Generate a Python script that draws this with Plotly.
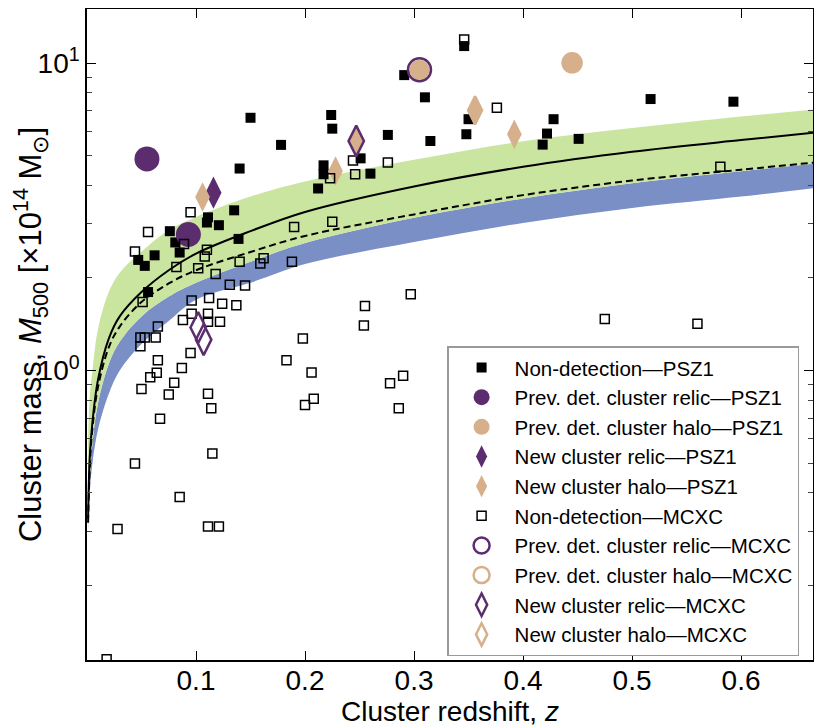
import plotly.graph_objects as go

# ---------------- data ----------------
# Completeness curves
curve_z = [0.001, 0.0025, 0.005, 0.01, 0.02, 0.03, 0.05, 0.075, 0.1, 0.15, 0.2, 0.3, 0.4, 0.5, 0.6, 0.67]
solid_m = [0.33, 0.52, 0.68, 0.93, 1.27, 1.50, 1.80, 2.12, 2.40, 2.84, 3.28, 3.97, 4.60, 5.15, 5.62, 5.95]
dashed_m = [0.32, 0.48, 0.65, 0.88, 1.19, 1.39, 1.67, 1.92, 2.12, 2.43, 2.74, 3.22, 3.72, 4.15, 4.50, 4.76]
green_hi = [0.60, 0.82, 1.00, 1.36, 1.80, 2.08, 2.44, 2.86, 3.16, 3.68, 4.12, 4.85, 5.57, 6.15, 6.70, 7.09]
green_lo = [0.31, 0.44, 0.58, 0.78, 1.05, 1.24, 1.50, 1.74, 1.93, 2.26, 2.60, 3.14, 3.63, 4.07, 4.45, 4.72]
blue_lo = [0.30, 0.40, 0.50, 0.64, 0.84, 1.00, 1.22, 1.45, 1.70, 1.93, 2.22, 2.62, 3.02, 3.38, 3.68, 3.93]

# PSZ1 non-detections
psz_nd_z = [0.150, 0.178, 0.140, 0.224, 0.225, 0.217, 0.217, 0.212, 0.135, 0.111, 0.110, 0.121,
            0.076, 0.139, 0.081, 0.085, 0.047, 0.053, 0.062, 0.056, 0.346, 0.291, 0.310, 0.350,
            0.348, 0.276, 0.315, 0.428, 0.422, 0.418, 0.451, 0.517, 0.593, 0.251, 0.260]
psz_nd_m = [6.64, 5.42, 4.54, 6.78, 6.12, 4.65, 4.35, 3.91, 3.32, 3.15, 3.03, 2.97,
            2.84, 2.68, 2.61, 2.42, 2.29, 2.19, 2.37, 1.80, 11.36, 9.14, 7.74, 6.57,
            5.87, 5.84, 5.58, 6.57, 5.90, 5.43, 5.67, 7.64, 7.49, 4.90, 4.37]

# PSZ1 detections
psz_relic_prev_z = [0.055, 0.093]
psz_relic_prev_m = [4.88, 2.77]
psz_halo_prev_z = [0.305, 0.445]
psz_halo_prev_m = [9.51, 10.02]
psz_relic_new_z = [0.116]
psz_relic_new_m = [3.79]
psz_halo_new_z = [0.106, 0.228, 0.247, 0.356, 0.392]
psz_halo_new_m = [3.67, 4.46, 5.58, 7.02, 5.87]

# MCXC non-detections
mcxc_nd_z = [0.346, 0.223, 0.095, 0.056, 0.089, 0.044, 0.190, 0.225, 0.110, 0.108,
             0.082, 0.102, 0.118, 0.140, 0.162, 0.159, 0.188, 0.131, 0.145, 0.051,
             0.096, 0.112, 0.124, 0.137, 0.096, 0.111, 0.088, 0.111, 0.122, 0.065,
             0.049, 0.053, 0.063, 0.049, 0.095, 0.065, 0.087, 0.064, 0.058, 0.080,
             0.050, 0.075, 0.111, 0.114, 0.067, 0.115, 0.044, 0.085, 0.028, 0.111,
             0.121, 0.018, 0.198, 0.183, 0.206, 0.208, 0.200, 0.297, 0.255, 0.254,
             0.290, 0.278, 0.286, 0.376, 0.244, 0.246, 0.276, 0.581, 0.475, 0.560]
mcxc_nd_m = [11.94, 4.22, 3.27, 2.82, 2.58, 2.44, 2.93, 3.05, 2.47, 2.35,
             2.17, 2.15, 2.06, 2.26, 2.32, 2.23, 2.26, 1.90, 1.89, 1.67,
             1.69, 1.72, 1.65, 1.63, 1.53, 1.53, 1.46, 1.44, 1.44, 1.39,
             1.28, 1.28, 1.28, 1.20, 1.14, 1.08, 1.02, 0.983, 0.951, 0.912,
             0.870, 0.836, 0.840, 0.754, 0.697, 0.537, 0.498, 0.388, 0.305, 0.311,
             0.311, 0.115, 1.27, 1.08, 0.985, 0.809, 0.773, 1.77, 1.62, 1.40,
             0.961, 0.909, 0.754, 7.16, 4.82, 4.35, 4.75, 4.60, 1.47, 1.42]

# MCXC detections
mcxc_relic_prev_z = [0.305]
mcxc_relic_prev_m = [9.51]
mcxc_halo_prev_z = [0.445]
mcxc_halo_prev_m = [10.02]
mcxc_relic_new_z = [0.247, 0.102, 0.107]
mcxc_relic_new_m = [5.58, 1.38, 1.26]
mcxc_halo_new_z = [0.356]
mcxc_halo_new_m = [7.02]

x_ticks = [0.1, 0.2, 0.3, 0.4, 0.5, 0.6]
y_ticks = [1, 10]
y_ticktext = ["10<sup>0</sup>", "10<sup>1</sup>"]
y_minor = [0.2, 0.3, 0.4, 0.5, 0.6, 0.7, 0.8, 0.9, 2, 3, 4, 5, 6, 7, 8, 9]

labels = ["Non-detection\u2014PSZ1", "Prev. det. cluster relic\u2014PSZ1",
          "Prev. det. cluster halo\u2014PSZ1", "New cluster relic\u2014PSZ1",
          "New cluster halo\u2014PSZ1", "Non-detection\u2014MCXC",
          "Prev. det. cluster relic\u2014MCXC", "Prev. det. cluster halo\u2014MCXC",
          "New cluster relic\u2014MCXC", "New cluster halo\u2014MCXC"]

# ---------------- style ----------------
PURPLE = "#5c2d6e"
TAN = "#d6b08b"
GREEN = "#cae5a0"
BLUE = "#7b8fc7"

fig = go.Figure()

# bands
fig.add_trace(go.Scatter(x=curve_z, y=blue_lo, mode="lines", line=dict(width=0, shape="spline"),
                         showlegend=False, hoverinfo="skip"))
fig.add_trace(go.Scatter(x=curve_z, y=green_lo, mode="lines", line=dict(width=0, shape="spline"),
                         fill="tonexty", fillcolor=BLUE, showlegend=False, hoverinfo="skip"))
fig.add_trace(go.Scatter(x=curve_z, y=green_hi, mode="lines", line=dict(width=0, shape="spline"),
                         fill="tonexty", fillcolor=GREEN, showlegend=False, hoverinfo="skip"))
# lines
fig.add_trace(go.Scatter(x=curve_z, y=solid_m, mode="lines",
                         line=dict(color="black", width=2, shape="spline"), showlegend=False))
fig.add_trace(go.Scatter(x=curve_z, y=dashed_m, mode="lines",
                         line=dict(color="black", width=2, dash="7px,4px", shape="spline"), showlegend=False))

def pts(x, y, name, symbol, size, color, lw=0, lc=None):
    fig.add_trace(go.Scatter(
        x=x, y=y, mode="markers", name=name,
        marker=dict(symbol=symbol, size=size, color=color,
                    line=dict(width=lw, color=lc if lc else color))))

pts(psz_nd_z, psz_nd_m, labels[0], "square", 10, "black")
pts(psz_relic_prev_z, psz_relic_prev_m, labels[1], "circle", 25, PURPLE)
pts(psz_halo_prev_z, psz_halo_prev_m, labels[2], "circle", 20, TAN)
pts(psz_relic_new_z, psz_relic_new_m, labels[3], "diamond-tall", 23, PURPLE)
pts(psz_halo_new_z, psz_halo_new_m, labels[4], "diamond-tall", 21, TAN)
pts(mcxc_nd_z, mcxc_nd_m, labels[5], "square-open", 9, "black", 1.5)
pts(mcxc_relic_prev_z, mcxc_relic_prev_m, labels[6], "circle-open", 23, PURPLE, 2.5)
pts(mcxc_halo_prev_z, mcxc_halo_prev_m, labels[7], "circle-open", 19, TAN, 2.5)
pts(mcxc_relic_new_z, mcxc_relic_new_m, labels[8], "diamond-tall-open", 22, PURPLE, 2.5)
pts(mcxc_halo_new_z, mcxc_halo_new_m, labels[9], "diamond-tall-open", 20, TAN, 2.5)

AXFONT = "Liberation Sans Narrow, Liberation Sans, Arial, sans-serif"

# the page adds an 8 px body margin, so the figure is 814x720
fig.update_layout(
    width=814, height=720,
    margin=dict(l=79, r=9, t=1, b=68),
    paper_bgcolor="white", plot_bgcolor="white",
    font=dict(family=AXFONT, color="black"),
    legend=dict(
        x=0.496, y=0.482, xanchor="left", yanchor="top",
        bgcolor="white", bordercolor="#9a9a9a", borderwidth=1.5,
        font=dict(family="Liberation Sans, Arial, sans-serif", size=20.5, color="black"),
        itemwidth=56, tracegroupgap=0, traceorder="normal",
    ),
    xaxis=dict(
        range=[0, 0.666], tickvals=x_ticks, ticktext=[str(v) for v in x_ticks],
        ticks="inside", ticklen=9, tickwidth=1, tickcolor="black",
        showline=True, linecolor="black", linewidth=1.5, mirror="ticks",
        showgrid=False, zeroline=False, automargin=False,
        ticklabelstandoff=-5,
        tickfont=dict(size=28, family=AXFONT),
        title=dict(text="Cluster redshift, <i>z</i>", font=dict(size=28, family=AXFONT), standoff=0),
    ),
    yaxis=dict(
        type="log", range=[-0.9416, 1.176],
        tickvals=y_ticks, ticktext=y_ticktext,
        ticks="inside", ticklen=9, tickwidth=1, tickcolor="black",
        minor=dict(tickvals=y_minor, ticks="inside", ticklen=5, tickwidth=1, tickcolor="#444"),
        showline=True, linecolor="black", linewidth=1.5, mirror="ticks",
        showgrid=False, zeroline=False, automargin=False,
        tickfont=dict(size=28, family=AXFONT),
        title=dict(text="Cluster mass, <i>M</i><sub>500</sub> [\u00d710<sup>14</sup> M<sub>\u2299</sub>]",
                   font=dict(size=31, family=AXFONT), standoff=2),
    ),
)

fig.write_html("out.html")
